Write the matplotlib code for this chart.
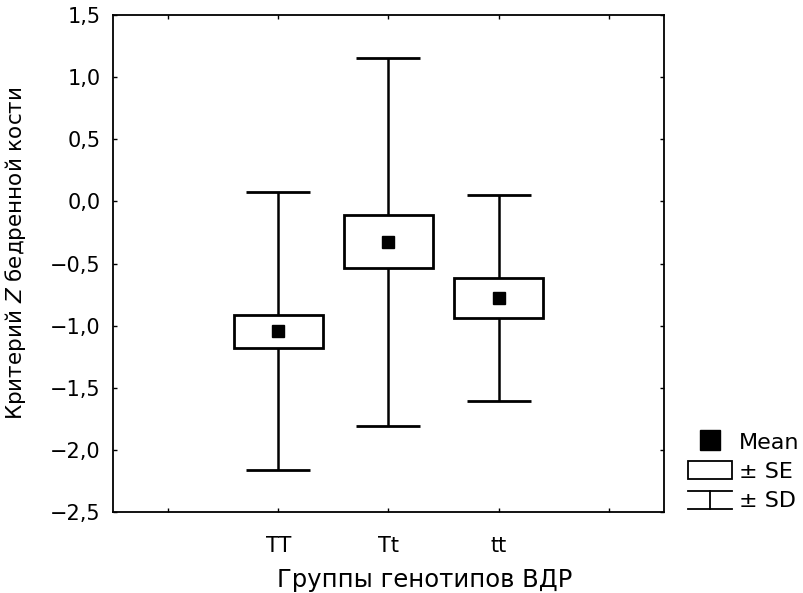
import numpy as np
import matplotlib
matplotlib.use("Agg")
import matplotlib.pyplot as plt
from matplotlib.lines import Line2D
from matplotlib.patches import Rectangle
from matplotlib.legend_handler import HandlerBase

# группы генотипов и значения Z-критерия
groups = ["TT", "Tt", "tt"]
means = [-1.045, -0.325, -0.775]
se = [0.134, 0.214, 0.160]
sd = [1.12, 1.48, 0.83]

yticks = [-2.5, -2.0, -1.5, -1.0, -0.5, 0.0, 0.5, 1.0, 1.5]

plt.rcParams['font.family'] = ['DejaVu Sans']
plt.rcParams['mathtext.fontset'] = 'dejavusans'


class SDHandle:
    pass


class HandlerSD(HandlerBase):
    # значок "± SD": буква I с широкими перекладинами
    def create_artists(self, legend, orig_handle, xdescent, ydescent,
                       width, height, fontsize, trans):
        x0, x1 = -xdescent, -xdescent + width
        xm = (x0 + x1) / 2
        ytop = -ydescent + height * 0.95
        ybot = -ydescent - height * 0.05
        kw = dict(color="black", lw=1.3, transform=trans)
        return [Line2D([x0, x1], [ytop, ytop], **kw),
                Line2D([x0, x1], [ybot, ybot], **kw),
                Line2D([xm, xm], [ytop, ybot], **kw)]


fig = plt.figure(figsize=(8.04, 5.93), dpi=100)
ax = fig.add_axes([113 / 804, 1 - 512 / 593, 551 / 804, 497 / 593])

x = np.arange(1, len(groups) + 1)
ax.errorbar(x, means, yerr=sd, fmt="none", ecolor="black", elinewidth=1.8,
            capsize=23, capthick=2.0, zorder=1)
ax.bar(x, 2 * np.array(se), bottom=np.array(means) - np.array(se), width=0.81,
       facecolor="white", edgecolor="black", linewidth=2.0, zorder=2)
ax.plot(x, means, "s", color="black", markersize=8, zorder=3)

ax.set_xlim(-0.5, 4.5)
ax.set_ylim(-2.5, 1.5)
ax.set_xticks(range(0, 5))
ax.set_xticklabels([""] + groups + [""])
ax.set_yticks(yticks)
ax.set_yticklabels([f"{v:.1f}".replace(".", ",").replace("-", "\u2212") for v in yticks])

ax.tick_params(direction="in", length=3, width=1, top=True, right=True,
               labelsize=15, pad=9)
ax.tick_params(axis="x", pad=17)
for s in ax.spines.values():
    s.set_linewidth(1.3)

ax.set_xlabel("Группы генотипов ВДР", fontsize=17.5)
ax.xaxis.set_label_coords(0.565, -0.113)
ax.set_ylabel("Критерий $\\mathit{Z}$ бедренной кости", fontsize=15.5)
ax.yaxis.set_label_coords(-0.155, 0.52)

h_mean = Line2D([], [], marker="s", color="black", linestyle="none", markersize=14)
h_se = Rectangle((0, 0), 1, 1, facecolor="white", edgecolor="black", linewidth=1.3)
h_sd = SDHandle()
ax.legend([h_mean, h_se, h_sd], ["Mean", "± SE", "± SD"],
          handler_map={SDHandle: HandlerSD()},
          loc="upper left", bbox_to_anchor=(688 / 804, 1 - 432 / 593),
          bbox_transform=fig.transFigure, frameon=False, fontsize=16,
          borderpad=0, borderaxespad=0, handlelength=2.0, handleheight=0.86,
          handletextpad=0.3, labelspacing=0.38)

plt.savefig("out.png", dpi=100)
